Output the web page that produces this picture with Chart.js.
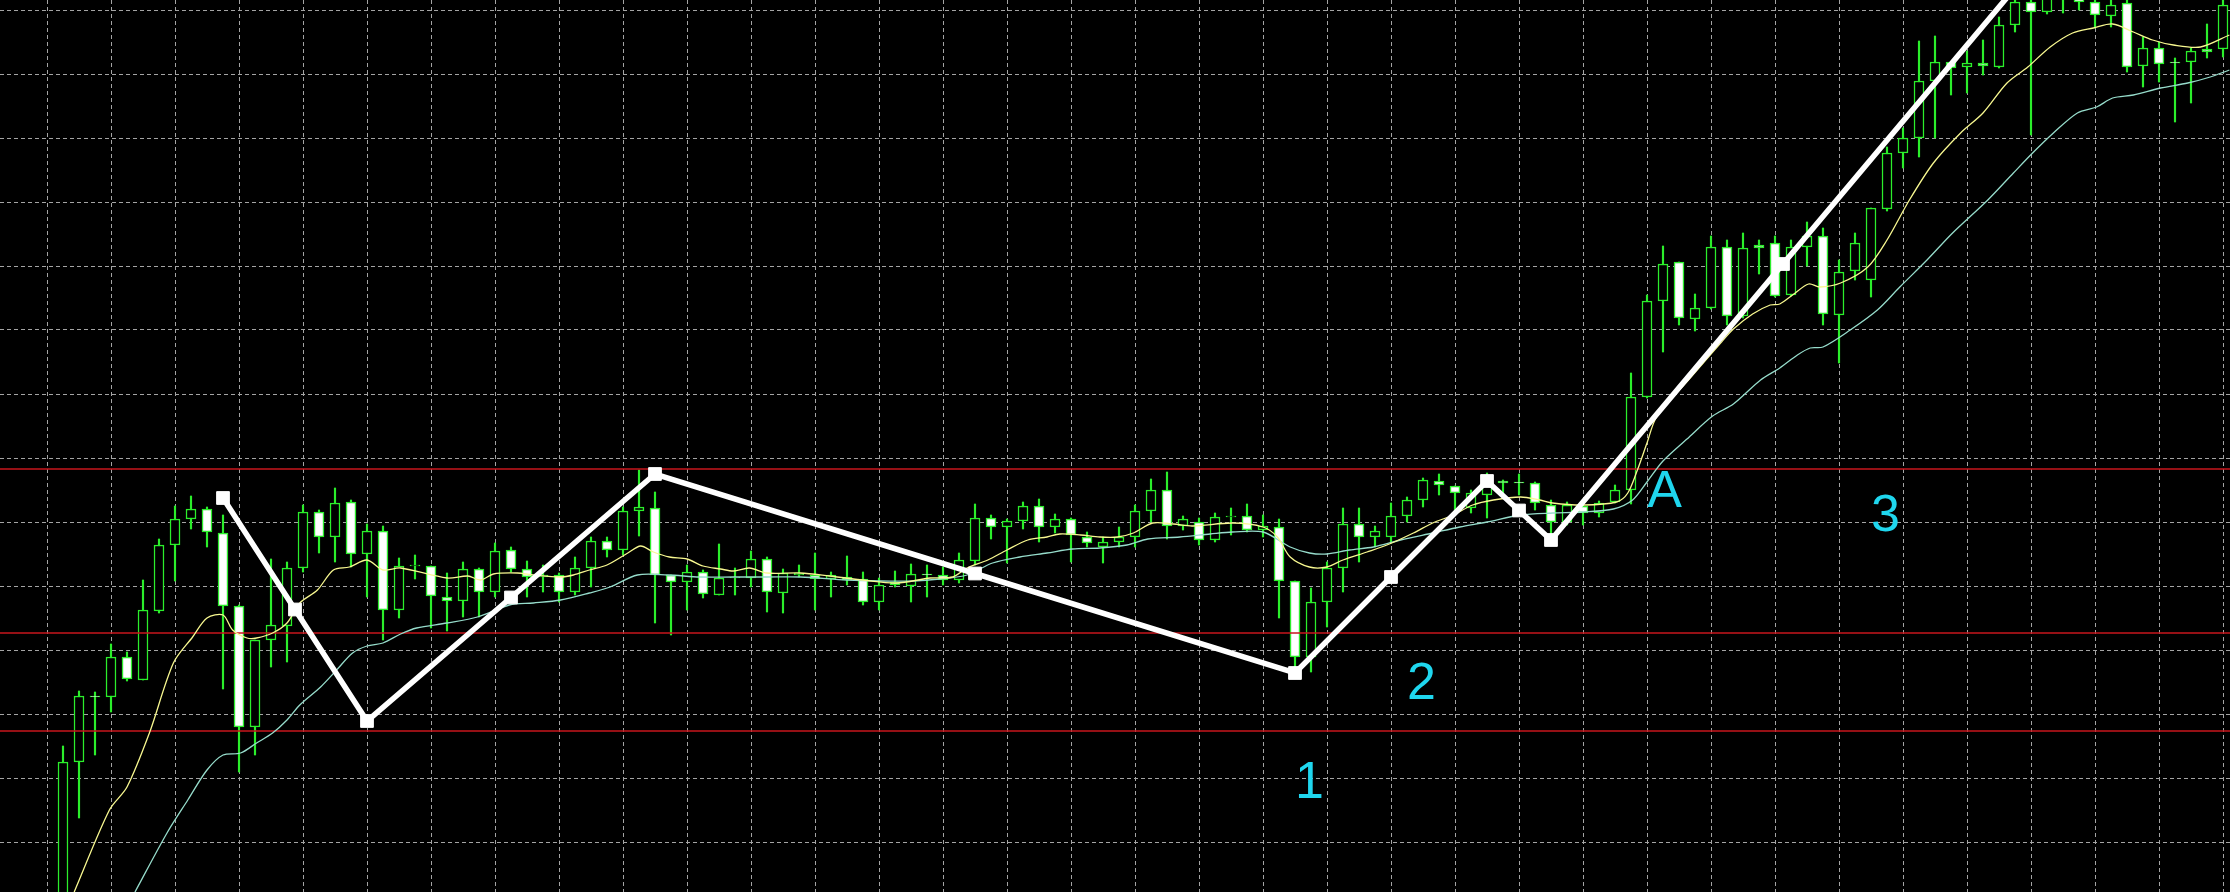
<!DOCTYPE html>
<html>
<head>
<meta charset="utf-8">
<script src="https://cdn.jsdelivr.net/npm/chart.js@4.4.1/dist/chart.umd.min.js"></script>
<style>
  html, body { margin: 0; padding: 0; background: #000; overflow: hidden; }
  canvas { display: block; }
</style>
</head>
<body>
<canvas id="chart" width="2230" height="892"></canvas>
<script>
// bar data, one value per candle (chart points)
const opens = [
  -58, 130, 196, 195, 235, 212, 281, 347, 373, 383,
  359, 286, 165, 252, 266, 324, 380, 355, 390, 338,
  361, 282, 326, 326, 295, 291, 323, 300, 342, 323,
  315, 317, 300, 324, 351, 342, 381, 384, 317, 310,
  320, 297, 314, 314, 333, 299, 317, 317, 313, 315,
  313, 290, 310, 306, 318, 317, 312, 331, 374, 365,
  371, 386, 365, 373, 355, 345, 350, 355, 381, 402,
  366, 370, 352, 375, 376, 362, 365, 311, 235, 290,
  324, 368, 355, 355, 376, 392, 411, 406, 384, 397,
  411, 410, 409, 387, 370, 386, 379, 390, 402, 495,
  591, 630, 573, 584, 645, 576, 647, 649, 597, 645,
  656, 577, 621, 612, 683, 739, 754, 811, 830, 825,
  829, 825, 867, 890, 880, 894, 896, 890, 876, 889,
  826, 844, 830, 830, 843, 843
];
const highs = [
  146, 201, 200, 248, 240, 312, 353, 386, 396, 385,
  377, 287, 252, 333, 330, 387, 382, 404, 392, 368,
  366, 334, 337, 326, 319, 330, 324, 349, 345, 331,
  327, 319, 335, 355, 355, 385, 422, 400, 317, 327,
  322, 348, 324, 341, 335, 323, 327, 339, 320, 336,
  320, 314, 321, 328, 327, 325, 339, 388, 377, 373,
  390, 393, 378, 374, 360, 355, 365, 387, 413, 420,
  376, 374, 379, 384, 388, 377, 373, 311, 304, 330,
  384, 384, 366, 389, 395, 414, 418, 406, 402, 419,
  412, 418, 410, 392, 390, 389, 391, 407, 519, 597,
  646, 630, 598, 656, 652, 659, 652, 656, 652, 670,
  664, 632, 659, 684, 745, 764, 851, 856, 830, 841,
  852, 875, 900, 902, 906, 910, 902, 896, 894, 895,
  855, 850, 834, 844, 868, 897
];
const lows = [
  -88, 74, 137, 180, 211, 212, 279, 311, 363, 345,
  203, 120, 137, 225, 230, 320, 339, 330, 325, 295,
  252, 274, 313, 264, 261, 275, 275, 295, 320, 295,
  300, 290, 297, 305, 335, 337, 356, 269, 257, 282,
  294, 297, 297, 305, 280, 279, 315, 282, 295, 307,
  287, 282, 305, 290, 295, 307, 309, 327, 353, 329,
  363, 350, 359, 330, 345, 329, 345, 345, 370, 353,
  362, 347, 350, 357, 360, 355, 274, 222, 220, 265,
  300, 330, 345, 349, 370, 385, 397, 380, 379, 374,
  395, 397, 382, 357, 367, 367, 375, 389, 388, 494,
  540, 567, 561, 583, 567, 574, 618, 595, 596, 626,
  567, 529, 612, 595, 681, 724, 735, 754, 797, 799,
  817, 824, 860, 757, 878, 879, 882, 864, 865, 820,
  805, 810, 770, 789, 834, 835
];
const closes = [
  130, 196, 195, 235, 213, 282, 347, 373, 383, 360,
  286, 165, 252, 267, 324, 380, 355, 389, 338, 361,
  282, 326, 327, 296, 291, 323, 300, 341, 323, 315,
  317, 300, 324, 351, 342, 381, 385, 317, 310, 320,
  298, 314, 315, 333, 300, 319, 319, 313, 317, 312,
  290, 307, 307, 318, 317, 312, 332, 374, 365, 371,
  386, 365, 373, 357, 349, 350, 355, 381, 402, 366,
  373, 352, 375, 376, 362, 366, 311, 235, 290, 324,
  368, 355, 361, 376, 392, 412, 407, 399, 399, 409,
  409, 409, 389, 370, 387, 379, 389, 402, 495, 591,
  628, 574, 584, 645, 576, 644, 644, 596, 645, 656,
  578, 620, 649, 684, 739, 754, 811, 830, 824, 829,
  826, 867, 890, 880, 898, 904, 890, 877, 887, 825,
  844, 828, 829, 841, 840, 887
];

// fast moving average (at bar positions)
const fastMaX = [
  0.7, 2.9, 4.0, 5.4, 6.9, 8.1, 9.0, 10.0, 10.6, 11.5, 12.1, 13.1, 14.0, 14.8, 15.9, 16.9,
  17.9, 19.0, 20.0, 21.1, 24.0, 25.3, 26.1, 26.9, 28.4, 29.4, 31.1, 31.9, 32.9, 34.0,
  35.3, 36.1, 36.9, 37.9, 39.0, 40.0, 41.1, 41.9, 42.9, 44.0, 46.1, 47.9, 50.0, 52.1,
  54.2, 55.6, 56.5, 57.8, 59.0, 60.3, 61.5, 62.3, 63.6, 64.8, 65.9, 66.9, 68.1, 69.4,
  70.6, 73.1, 75.0, 75.9, 76.7, 77.9, 79.0, 80.0, 81.5, 82.9, 84.4, 85.6, 86.9, 88.1,
  89.4, 91.1, 92.3, 93.1, 95.0, 97.1, 97.8, 98.4, 99.0, 99.6, 101.7, 103.6, 104.4, 105.6,
  106.7, 107.3, 108.1, 109.1, 109.8, 111.1, 112.8, 114.0, 115.4, 116.9, 118.6, 120.0,
  121.5, 122.8, 124.2, 125.6, 126.9, 128.1, 129.4, 130.6, 131.9, 133.6, 135.4
];
const fastMa = [
  0, 82, 105, 159, 229, 255, 274, 277, 262, 254, 254, 259, 269, 289, 302, 322,
  325, 332, 322, 324, 314, 316, 312, 318, 319, 317, 315, 317, 322, 327,
  339, 346, 340, 335, 333, 326, 323, 321, 324, 319, 319, 316, 312, 309,
  314, 315, 324, 332, 342, 352, 355, 358, 357, 355, 355, 359, 369, 368,
  366, 369, 365, 355, 335, 325, 325, 332, 340, 348, 359, 369, 377, 387,
  392, 395, 392, 389, 387, 390, 399, 422, 449, 475, 514, 549, 563, 578,
  587, 588, 597, 608, 605, 609, 625, 652, 692, 729, 759, 779,
  809, 825, 845, 859, 864, 868, 860, 852, 847, 845, 857
];

// slow moving average
const slowMaX = [
  4.5, 6.5, 7.8, 9.0, 10.0, 11.1, 12.1, 13.1, 14.0, 14.8, 16.1, 17.1, 18.1, 19.0, 20.0,
  21.1, 22.1, 24.0, 25.9, 27.9, 29.4, 31.1, 32.9, 34.2, 35.9, 37.8, 39.8, 41.9, 44.0,
  46.1, 49.0, 51.1, 53.1, 54.8, 56.5, 58.1, 59.8, 61.5, 63.1, 64.8, 66.5, 67.8, 69.8,
  71.7, 73.1, 75.0, 76.7, 77.9, 79.0, 80.4, 81.9, 83.6, 85.6, 87.3, 89.0, 91.1, 93.1,
  95.0, 96.9, 98.1, 99.0, 100.0, 101.5, 103.1, 104.4, 106.1, 107.3, 108.4, 109.2, 110.0,
  111.7, 113.4, 114.8, 116.5, 118.1, 120.3, 121.9, 123.1, 124.4, 125.9, 127.1, 128.1,
  129.4, 131.1, 132.8, 134.2, 135.4
];
const slowMa = [
  0, 59, 92, 122, 137, 139, 149, 159, 172, 187, 205, 222, 239, 246, 249,
  258, 264, 269, 275, 287, 289, 292, 299, 305, 317, 317, 315, 315, 315,
  315, 312, 311, 311, 313, 317, 329, 335, 339, 343, 344, 347, 353, 355,
  358, 360, 360, 345, 339, 338, 342, 345, 352, 359, 365, 370, 377, 379,
  380, 383, 392, 410, 431, 453, 476, 488, 512, 524, 537, 544, 545,
  562, 582, 605, 632, 659, 692, 719, 739, 759, 779, 785, 794,
  797, 804, 809, 815, 822
];

// hand drawn zigzag: turning points and the handle in the middle of each leg
const zigzagX = [10, 14.5, 19, 28, 37, 57, 77, 83, 89, 91, 93, 107.5, 122];
const zigzagY = [394, 282.5, 171, 294.5, 418, 318.5, 219, 315, 411, 381.5, 352, 628, 904];

// horizontal levels
const redLevels = [423, 259, 161];

// wave labels
const waveLabels = ['1', '2', 'A', '3'];
const waveLabelX = [77.9, 84.9, 100.1, 113.9];
const waveLabelY = [94, 193, 385, 361];

// grid lines
const gridX = [];
for (let k = -1; k <= 135; k += 4) gridX.push(k);
const gridY = [882, 818, 754, 690, 626, 562, 498, 434, 370, 306, 242, 178, 114, 50];

const X_MIN = -3.9375;
const X_MAX = 135.4375;
const GREEN = '#2bee2b';

const bodies = opens.map((o, i) => ({ x: i, y: [o, closes[i]] }));
const wicks = lows.map((l, i) => ({ x: i, y: [l, highs[i]] }));
const bodyFill = opens.map((o, i) => closes[i] < o ? '#ffffff' : '#000000');

const redData = redLevels.map(v => ({
    type: 'line',
    data: [{ x: X_MIN, y: v }, { x: X_MAX, y: v }],
    borderColor: '#c8161c',
    borderWidth: 1.5,
    pointRadius: 0,
    order: 2
}));

// text labels drawn on top of everything
const labelPlugin = {
    id: 'waveLabels',
    afterDatasetsDraw(chart) {
        const { ctx, scales } = chart;
        ctx.save();
        ctx.fillStyle = '#1fd6ee';
        ctx.font = '52px "Liberation Sans", Arial, sans-serif';
        ctx.textAlign = 'center';
        ctx.textBaseline = 'alphabetic';
        waveLabels.forEach((t, i) => {
            ctx.fillText(t, scales.x.getPixelForValue(waveLabelX[i]), scales.y.getPixelForValue(waveLabelY[i]));
        });
        ctx.restore();
    }
};

new Chart(document.getElementById('chart'), {
    type: 'bar',
    data: {
        datasets: [
            {
                type: 'line',
                data: zigzagX.map((x, i) => ({ x, y: zigzagY[i] })),
                borderColor: '#ffffff',
                borderWidth: 5.5,
                pointStyle: 'rect',
                pointRadius: 9,
                pointBorderWidth: 1,
                pointBackgroundColor: '#ffffff',
                pointBorderColor: '#ffffff',
                order: 0
            },
            {
                type: 'line',
                data: fastMaX.map((x, i) => ({ x, y: fastMa[i] })),
                borderColor: '#f8f890',
                borderWidth: 1.3,
                pointRadius: 0,
                tension: 0.3,
                order: 1
            },
            {
                type: 'line',
                data: slowMaX.map((x, i) => ({ x, y: slowMa[i] })),
                borderColor: '#96dccb',
                borderWidth: 1.3,
                pointRadius: 0,
                tension: 0.3,
                order: 1
            },
            ...redData,
            {
                data: bodies,
                backgroundColor: bodyFill,
                borderColor: GREEN,
                borderWidth: 1.5,
                borderSkipped: false,
                barThickness: 10,
                grouped: false,
                order: 3
            },
            {
                data: wicks,
                backgroundColor: GREEN,
                borderWidth: 0,
                barThickness: 1.5,
                grouped: false,
                order: 4
            }
        ]
    },
    options: {
        responsive: false,
        animation: false,
        events: [],
        layout: { padding: 0, autoPadding: false },
        plugins: { legend: { display: false }, tooltip: { enabled: false } },
        scales: {
            x: {
                type: 'linear',
                min: X_MIN,
                max: X_MAX,
                offset: false,
                afterBuildTicks: scale => { scale.ticks = gridX.map(v => ({ value: v })); },
                ticks: { display: false },
                grid: { color: '#a4a4a4', lineWidth: 1, drawTicks: false, offset: false },
                border: { display: false, dash: [4, 3] }
            },
            y: {
                type: 'linear',
                min: 0,
                max: 892,
                afterBuildTicks: scale => { scale.ticks = gridY.map(v => ({ value: v })); },
                ticks: { display: false },
                grid: { color: '#a4a4a4', lineWidth: 1, drawTicks: false },
                border: { display: false, dash: [4, 3] }
            }
        }
    },
    plugins: [labelPlugin]
});
</script>
</body>
</html>
